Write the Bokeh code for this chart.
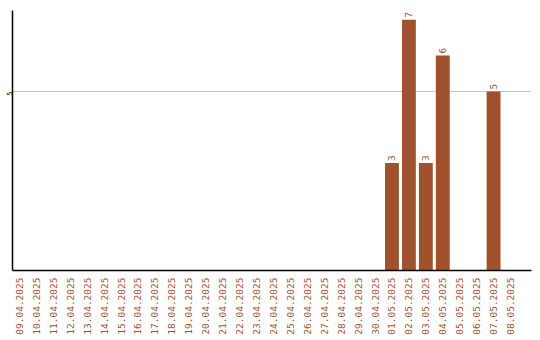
import math
from bokeh.plotting import figure
from bokeh.models import ColumnDataSource, FixedTicker, Range1d
from bokeh.core.properties import value
from bokeh.embed import file_html
from bokeh.resources import INLINE

dates = ["09.04.2025", "10.04.2025", "11.04.2025", "12.04.2025", "13.04.2025",
         "14.04.2025", "15.04.2025", "16.04.2025", "17.04.2025", "18.04.2025",
         "19.04.2025", "20.04.2025", "21.04.2025", "22.04.2025", "23.04.2025",
         "24.04.2025", "25.04.2025", "26.04.2025", "27.04.2025", "28.04.2025",
         "29.04.2025", "30.04.2025", "01.05.2025", "02.05.2025", "03.05.2025",
         "04.05.2025", "05.05.2025", "06.05.2025", "07.05.2025", "08.05.2025"]
counts = [0, 0, 0, 0, 0, 0, 0, 0, 0, 0,
          0, 0, 0, 0, 0, 0, 0, 0, 0, 0,
          0, 0, 3, 7, 3, 6, 0, 0, 5, 0]
y_ticks = [5]

BROWN = "#A0522D"
FONT = "DejaVu Sans Mono"

xs = list(range(len(dates)))
bx = [x for x, c in zip(xs, counts) if c > 0]
bc = [c for c in counts if c > 0]
src = ColumnDataSource(data=dict(x=bx, top=bc, label=[str(c) for c in bc]))

p = figure(width=540, height=340, output_backend="svg", toolbar_location=None,
           x_range=Range1d(-0.41, 30.24), y_range=Range1d(0, 7.26),
           min_border_left=10, min_border_right=9, min_border_top=10, min_border_bottom=70)
p.outline_line_color = None
p.background_fill_color = "white"
p.border_fill_color = "white"

p.vbar(x="x", top="top", width=0.82, source=src, fill_color=BROWN, line_color=None)
p.text(x="x", y="top", text="label", source=src, angle=math.pi / 2,
       text_align="left", text_baseline="middle", y_offset=-2,
       text_color=BROWN, text_font=value(FONT), text_font_size="9.5px")

# x axis
p.xaxis.ticker = FixedTicker(ticks=xs)
p.xaxis.major_label_overrides = {i: d for i, d in enumerate(dates)}
p.xaxis.major_label_orientation = math.pi / 2
p.xaxis.major_label_text_color = BROWN
p.xaxis.major_label_text_font = FONT
p.xaxis.major_label_text_font_size = "9.5px"
p.xaxis.major_tick_out = 0
p.xaxis.major_tick_in = 0
p.xaxis.minor_tick_out = 0
p.xaxis.minor_tick_in = 0
p.xaxis.major_label_standoff = 7
p.xaxis.axis_line_color = "black"
p.xaxis.axis_line_width = 1.5

# y axis
p.yaxis.ticker = FixedTicker(ticks=y_ticks)
p.yaxis.major_label_orientation = math.pi / 2
p.yaxis.major_label_text_font = FONT
p.yaxis.major_label_text_font_size = "7px"
p.yaxis.major_label_text_color = "black"
p.yaxis.major_tick_out = 0
p.yaxis.major_tick_in = 0
p.yaxis.minor_tick_out = 0
p.yaxis.minor_tick_in = 0
p.yaxis.major_label_standoff = 3
p.yaxis.axis_line_color = "black"
p.yaxis.axis_line_width = 1.5

p.xgrid.grid_line_color = None
p.ygrid.ticker = FixedTicker(ticks=y_ticks)
p.ygrid.grid_line_color = "#c4c4c4"
p.ygrid.grid_line_width = 1

open("out.html", "w").write(file_html(p, INLINE))
